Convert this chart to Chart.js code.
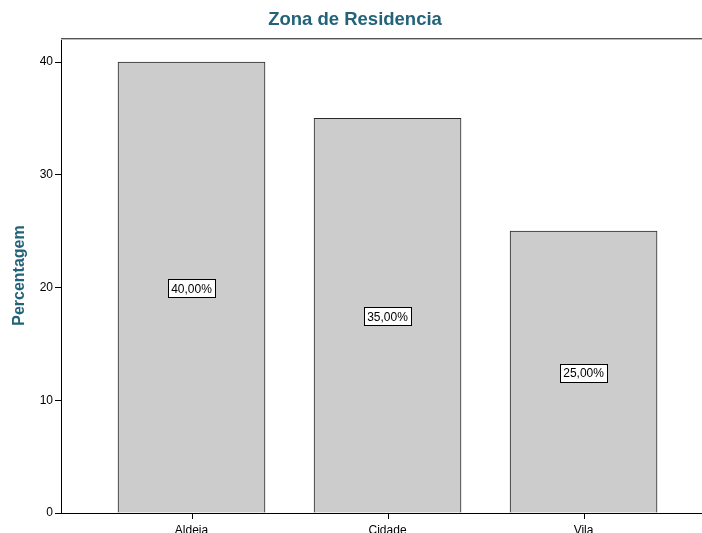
<!DOCTYPE html>
<html>
<head>
<meta charset="utf-8">
<script src="https://cdn.jsdelivr.net/npm/chart.js@4"></script>
<style>
  html, body { margin: 0; padding: 0; background: #fff; overflow: hidden; }
  #wrap { width: 702px; height: 533px; overflow: hidden; position: relative; }
  #box { width: 716px; height: 533px; }
</style>
</head>
<body>
<div id="wrap"><div id="box"><canvas id="chart"></canvas></div></div>
<script>
// dados do gráfico
const categorias = ['Aldeia', 'Cidade', 'Vila'];
const percentagens = [40, 35, 25];
const yTicks = [0, 10, 20, 30, 40];

const fonte = '"Liberation Sans", Arial, sans-serif';
const corTitulo = '#23637a';

// rótulos no meio das barras (caixa branca com borda)
const rotulosPlugin = {
    id: 'rotulos',
    afterDatasetsDraw(chart) {
        const ctx = chart.ctx;
        const meta = chart.getDatasetMeta(0);
        ctx.save();
        ctx.font = '12px ' + fonte;
        ctx.textAlign = 'center';
        ctx.textBaseline = 'middle';
        meta.data.forEach((bar, i) => {
            const txt = percentagens[i].toFixed(2).replace('.', ',') + '%';
            const cx = bar.x;
            const cy = (bar.y + bar.base) / 2 + 1;
            const w = Math.round(ctx.measureText(txt).width + 6);
            const h = 18;
            const x0 = Math.round(cx - w / 2) + 0.5;
            const y0 = Math.round(cy - h / 2) + 0.5;
            ctx.fillStyle = '#fff';
            ctx.fillRect(x0, y0, w, h);
            ctx.strokeStyle = '#000';
            ctx.lineWidth = 1;
            ctx.strokeRect(x0, y0, w, h);
            ctx.fillStyle = '#000';
            ctx.fillText(txt, cx, cy + 1);
        });
        ctx.restore();
    }
};

// linha superior da moldura e marcas do eixo x
const molduraPlugin = {
    id: 'moldura',
    afterDraw(chart) {
        const a = chart.chartArea;
        const ctx = chart.ctx;
        ctx.save();
        ctx.strokeStyle = '#555';
        ctx.lineWidth = 1;
        ctx.beginPath();
        ctx.moveTo(a.left, a.top + 0.5);
        ctx.lineTo(a.right + 20, a.top + 0.5);
        ctx.stroke();
        ctx.strokeStyle = '#bbb';
        ctx.beginPath();
        ctx.moveTo(a.left, a.top + 1.5);
        ctx.lineTo(a.right + 20, a.top + 1.5);
        ctx.stroke();
        const sx = chart.scales.x;
        ctx.strokeStyle = '#000';
        categorias.forEach((c, i) => {
            const px = Math.round(sx.getPixelForValue(i)) + 0.5;
            ctx.beginPath();
            ctx.moveTo(px, a.bottom);
            ctx.lineTo(px, a.bottom + 6);
            ctx.stroke();
        });
        ctx.restore();
    }
};

const ctx = document.getElementById('chart').getContext('2d');
const chart = new Chart(ctx, {
    type: 'bar',
    data: {
        datasets: [{
            data: percentagens.map((v, i) => ({ x: i, y: v })),
            backgroundColor: '#cccccc',
            borderColor: '#2a2a2a',
            borderWidth: 1,
            barThickness: 147
        }]
    },
    options: {
        responsive: true,
        maintainAspectRatio: false,
        animation: false,
        layout: { padding: { left: 0, right: 6, top: 0, bottom: 0 } },
        plugins: {
            legend: { display: false },
            tooltip: { enabled: false },
            title: {
                display: true,
                text: 'Zona de Residencia',
                color: corTitulo,
                font: { family: fonte, size: 18.5, weight: 'bold' },
                padding: { top: 9, bottom: 6.8 }
            }
        },
        scales: {
            x: {
                type: 'linear',
                min: -0.6658,
                max: 2.645,
                offset: false,
                afterBuildTicks: s => { s.ticks = categorias.map((c, i) => ({ value: i })); },
                afterFit: s => { s.height = 20; },
                grid: { display: false },
                border: { display: true, color: '#000', width: 1 },
                ticks: {
                    color: '#000',
                    padding: 2.5,
                    maxRotation: 0,
                    font: { family: fonte, size: 12 },
                    callback: v => categorias[v]
                }
            },
            y: {
                min: 0,
                max: 42.13,
                afterBuildTicks: s => { s.ticks = yTicks.map(v => ({ value: v })); },
                afterFit: s => { s.width = 61; },
                grid: { display: true, drawOnChartArea: false, tickLength: 6, color: '#000' },
                border: { display: true, color: '#000', width: 1 },
                ticks: {
                    color: '#000',
                    padding: 2,
                    font: { family: fonte, size: 12 }
                },
                title: {
                    display: true,
                    text: 'Percentagem',
                    color: corTitulo,
                    font: { family: fonte, size: 16, weight: 'bold' },
                    padding: { top: 10, bottom: 0 }
                }
            }
        }
    },
    plugins: [rotulosPlugin, molduraPlugin]
});
</script>
</body>
</html>
